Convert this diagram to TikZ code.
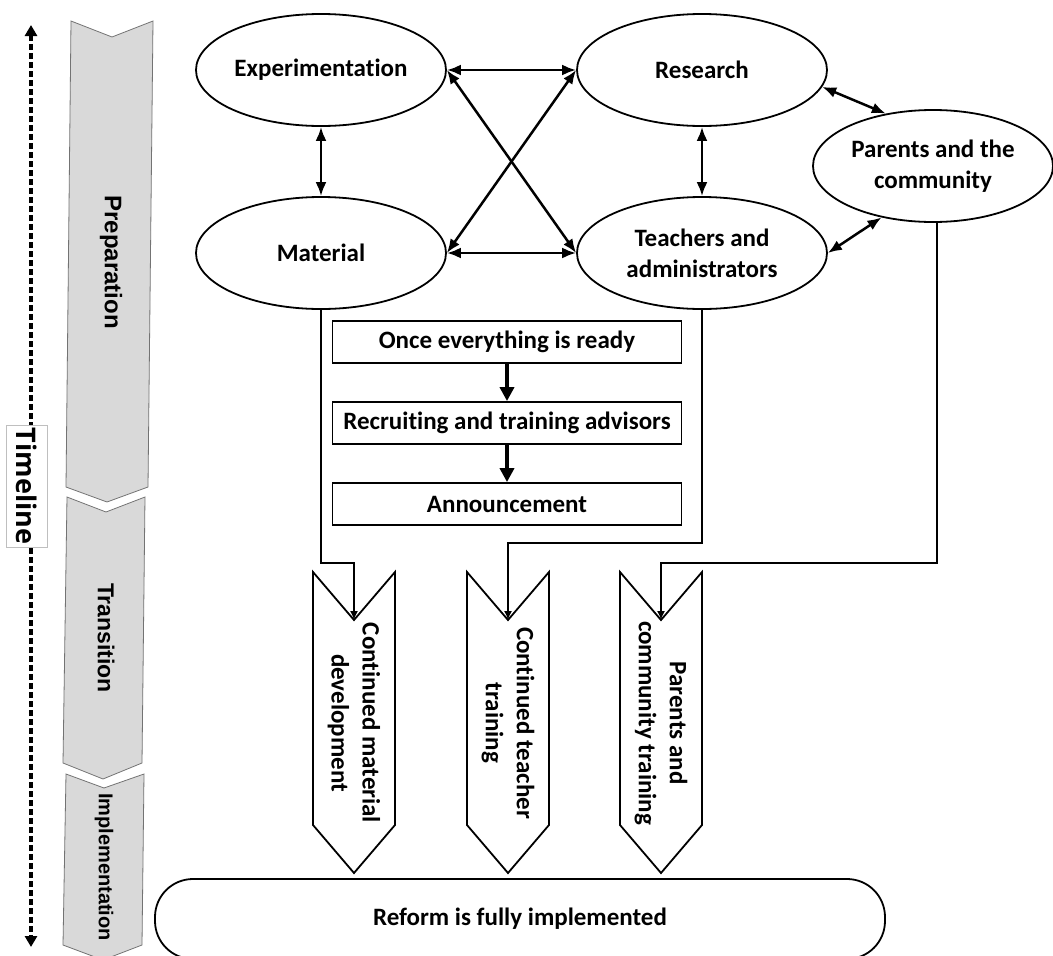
\documentclass[tikz,border=0pt]{standalone}
\usepackage{fontspec}
\setmainfont{Carlito}[Ligatures=NoCommon]
\newfontfamily\phasefont{Liberation Sans}
\newfontfamily\timefont{Open Sans}
\usetikzlibrary{shapes.geometric,arrows.meta}
\newcommand{\hw}{41}

\begin{document}
\begin{tikzpicture}[x=1pt,y=-1pt,
    ell/.style={draw, ellipse, line width=1.8pt, minimum width=250pt, minimum height=112pt, inner sep=0pt, align=center, font=\fontsize{25}{31}\selectfont\bfseries},
    rect/.style={draw, rectangle, line width=1.8pt, minimum width=349pt, minimum height=42pt, inner sep=0pt, font=\fontsize{25}{28}\selectfont\bfseries},
    both/.style={{Latex[length=14pt,width=11pt]}-{Latex[length=14pt,width=11pt]}, line width=2.5pt},
    nextarrow/.style={-{Triangle[length=14pt,width=14pt]}, line width=3.5pt},
    feed/.style={-{Latex[length=9pt,width=8pt]}, line width=1.6pt},
    chev/.style={draw, line width=1.8pt, fill=white},
    chevtext/.style={rotate=-90, align=center, font=\fontsize{25}{31}\selectfont\bfseries},
    phase/.style={draw=black!55, line width=0.8pt, fill=black!15},
    phasetext/.style={rotate=-90, font=\phasefont\fontsize{24}{28}\selectfont\bfseries}]
    \useasboundingbox (0,0) rectangle (1053,956);

    % Timeline
    \draw[line width=3.5pt, dash pattern=on 6pt off 3pt, {Triangle[length=11pt,width=12pt]}-{Triangle[length=11pt,width=12pt]}] (31,25) -- (31,947);
    \node[draw=black!25, fill=white, rotate=-90, minimum width=122pt, minimum height=41pt, inner sep=0pt, font=\timefont\fontsize{27}{30}\selectfont\bfseries] (timeline) at (27,486) {Timeline};

    % Phases
    \draw[phase] (71,21) -- (112,37) -- (153,21) -- (148,487) -- (107,502) -- (66,487) -- cycle;
    \draw[phase] (67,497) -- (106,512) -- (145,497) -- (142,763) -- (103,779) -- (63,763) -- cycle;
    \draw[phase] (66,774) -- (104,788) -- (144,774) -- (142,945) -- (103,960) -- (63,945) -- cycle;
    \node[phasetext] (prep) at (111,262) {Preparation};
    \node[phasetext, font=\phasefont\fontsize{23}{26}\selectfont\bfseries] (trans) at (106,638) {Transition};
    \node[phasetext, font=\phasefont\fontsize{20}{24}\selectfont\bfseries] (impl) at (104,867) {Implementation};

    % Preparation network
    \node[ell] (exp) at (321,70) {Experimentation};
    \node[ell] (mat) at (321,253) {Material};
    \node[ell] (res) at (702,70) {Research};
    \node[ell] (teach) at (702,253) {Teachers and\\administrators};
    \node[ell, minimum width=240pt] (par) at (933,166) {Parents and the\\community};

    \draw[both] (exp.south) -- (mat.north);
    \draw[both] (res.south) -- (teach.north);
    \draw[both] (exp.east) -- (res.west);
    \draw[both] (mat.east) -- (teach.west);
    \draw[both] (exp.east) -- (teach.west);
    \draw[both] (mat.east) -- (res.west);
    \draw[both] (res.-8) -- (par.132);
    \draw[both] (teach.east) -- (par.225);

    % Steps
    \node[rect] (ready) at (507,342) {Once everything is ready};
    \node[rect] (recruit) at (507,423) {Recruiting and training advisors};
    \node[rect] (announce) at (507,504) {Announcement};
    \draw[nextarrow] (ready.south) -- (recruit.north);
    \draw[nextarrow] (recruit.south) -- (announce.north);

    % Transition chevrons
    \foreach \cx/\cn in {354/n1, 508/n2, 661/n3} {
        \draw[chev] (\cx-\hw,572) -- (\cx,620) -- (\cx+\hw,572) -- (\cx+\hw,825) -- (\cx,873) -- (\cx-\hw,825) -- cycle;
        \coordinate (\cn) at (\cx,620);
    }
    \node[chevtext] (matdev) at (354,723) {Continued material\\development};
    \node[chevtext] (teachtr) at (508,723) {Continued teacher\\training};
    \node[chevtext] (partr) at (661,723) {Parents and\\community training};

    \draw[feed] (mat.south) -- ++(0,253) -| (n1);
    \draw[feed] (teach.south) -- ++(0,233) -| (n2);
    \draw[feed] ([xshift=4pt]par.south) -- ++(0,340) -| (n3);

    % Implementation
    \node[draw, line width=1.8pt, rounded corners=38pt, minimum width=730pt, minimum height=80pt, font=\fontsize{25}{28}\selectfont\bfseries] (reform) at (520,919) {Reform is fully implemented};
\end{tikzpicture}
\end{document}
